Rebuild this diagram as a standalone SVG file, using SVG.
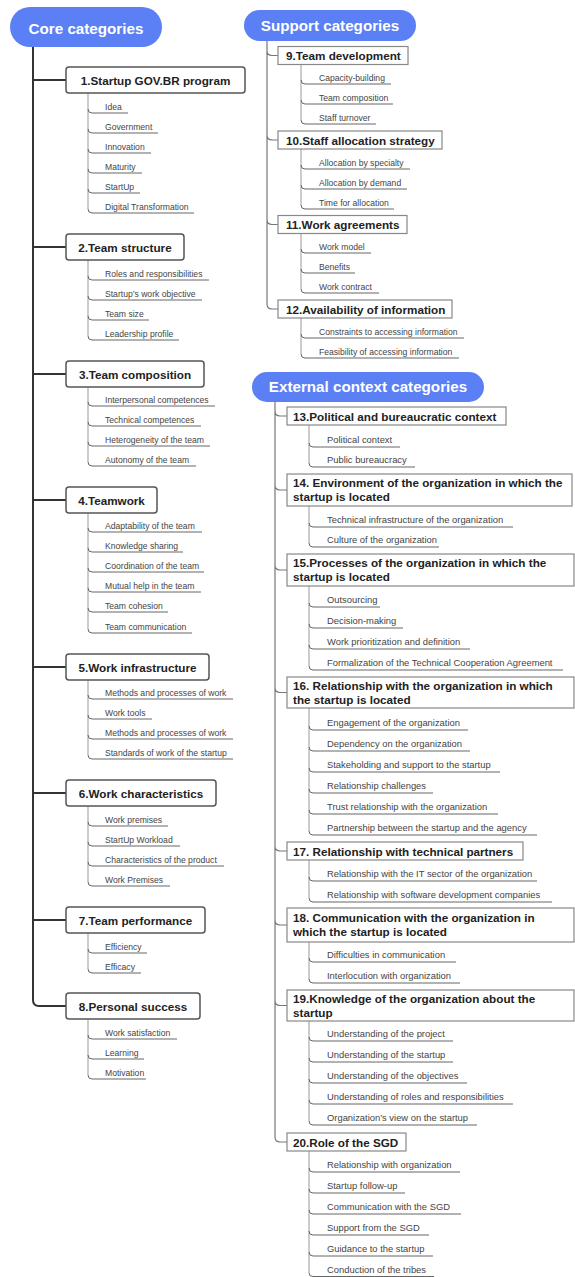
<svg xmlns="http://www.w3.org/2000/svg" width="575" height="1277" viewBox="0 0 575 1277">
<style>
.pill{fill:#5b80f5}
.pt{font-family:"Liberation Sans",Arial,sans-serif;font-weight:bold;font-size:15.2px;fill:#fff;text-anchor:middle}
.lbox{fill:#fff;stroke:#555;stroke-width:1.5}
.rbox{fill:#fff;stroke:#888;stroke-width:1.2}
.tt{font-family:"Liberation Sans",Arial,sans-serif;font-weight:bold;font-size:11.7px;fill:#222}
.tc{text-anchor:middle}
.it{font-family:"Liberation Sans",Arial,sans-serif;font-size:8.6px;fill:#444}
.it2{font-family:"Liberation Sans",Arial,sans-serif;font-size:9.4px;fill:#444}
.trunk{stroke:#333;stroke-width:2;fill:none}
.rtrunk{stroke:#777;stroke-width:1.2;fill:none}
.sub{stroke:#999;stroke-width:1;fill:none}
.ul{stroke:#666;stroke-width:1;fill:none}
</style>
<rect width="575" height="1277" fill="#fff"/>
<g id="connectors">
<path class="trunk" d="M33,47 V1000 Q33,1006 39,1006 H66 M33,80 H66 M33,247 H66 M33,374 H66 M33,500 H66 M33,667 H66 M33,793 H66 M33,920 H66"/>
<path class="rtrunk" d="M267,41 V304 Q267,309 272,309 H278 M267,50.5 Q267,55.5 272,55.5 H278 M267,135 Q267,140 272,140 H278 M267,219.5 Q267,224.5 272,224.5 H278"/>
<path class="rtrunk" d="M275,402 V1137 Q275,1142 280,1142 H287 M275,411 Q275,416 280,416 H287 M275,485 Q275,490 280,490 H287 M275,565 Q275,570 280,570 H287 M275,687.5 Q275,692.5 280,692.5 H287 M275,846 Q275,851 280,851 H287 M275,920 Q275,925 280,925 H287 M275,1000.5 Q275,1005.5 280,1005.5 H287"/>
<!-- left sub lines -->
<path class="sub" d="M88,93 V209 M88,260 V336 M88,387 V462 M88,513 V629 M88,680 V755 M88,806 V882 M88,933 V969 M88,1019 V1075"/>
<path class="ul" d="M88,109 Q88,113 92,113 H128 M88,129 Q88,133 92,133 H158 M88,149 Q88,153 92,153 H151 M88,169 Q88,173 92,173 H142 M88,189 Q88,193 92,193 H140 M88,209 Q88,213 92,213 H194
M88,276 Q88,280 92,280 H209 M88,296 Q88,300 92,300 H202 M88,316 Q88,320 92,320 H149 M88,336 Q88,340 92,340 H179
M88,402 Q88,406 92,406 H215 M88,422 Q88,426 92,426 H201 M88,442 Q88,446 92,446 H210 M88,462 Q88,466 92,466 H196
M88,528 Q88,532 92,532 H202 M88,548 Q88,552 92,552 H183 M88,568 Q88,572 92,572 H204 M88,588 Q88,592 92,592 H201 M88,608 Q88,612 92,612 H168 M88,629 Q88,633 92,633 H192
M88,695 Q88,699 92,699 H233 M88,715 Q88,719 92,719 H152 M88,735 Q88,739 92,739 H233 M88,755 Q88,759 92,759 H233
M88,822 Q88,826 92,826 H168 M88,842 Q88,846 92,846 H180 M88,862 Q88,866 92,866 H224 M88,882 Q88,886 92,886 H170
M88,949 Q88,953 92,953 H147 M88,969 Q88,973 92,973 H141
M88,1035 Q88,1039 92,1039 H177 M88,1055 Q88,1059 92,1059 H144 M88,1075 Q88,1079 92,1079 H146"/>
<!-- support sub lines -->
<path class="sub" d="M301,64.5 V120 M301,149 V205 M301,233.5 V289 M301,318 V354"/>
<path class="ul" d="M301,80 Q301,84 305,84 H391 M301,100 Q301,104 305,104 H393 M301,120 Q301,124 305,124 H376
M301,165 Q301,169 305,169 H410 M301,185 Q301,189 305,189 H407 M301,205 Q301,209 305,209 H394
M301,249 Q301,253 305,253 H371 M301,269 Q301,273 305,273 H355 M301,289 Q301,293 305,293 H379
M301,334 Q301,338 305,338 H464 M301,354 Q301,358 305,358 H459"/>
<!-- external sub lines -->
<path class="sub" d="M309,425 V463 M309,506 V543 M309,586 V666 M309,708 V831 M309,860 V898 M309,942 V979 M309,1021 V1121 M309,1151 V1273"/>
<path class="ul" d="M309,443 Q309,447 313,447 H400 M309,463 Q309,467 313,467 H415
M309,523 Q309,527 313,527 H513 M309,543 Q309,547 313,547 H439
M309,603 Q309,607 313,607 H380 M309,624 Q309,628 313,628 H403 M309,645 Q309,649 313,649 H470 M309,666 Q309,670 313,670 H563
M309,726 Q309,730 313,730 H468 M309,747 Q309,751 313,751 H470 M309,768 Q309,772 313,772 H500 M309,789 Q309,793 313,793 H433 M309,810 Q309,814 313,814 H498 M309,831 Q309,835 313,835 H537
M309,877 Q309,881 313,881 H537 M309,898 Q309,902 313,902 H552
M309,958 Q309,962 313,962 H456 M309,979 Q309,983 313,983 H460
M309,1037 Q309,1041 313,1041 H453 M309,1058 Q309,1062 313,1062 H453 M309,1079 Q309,1083 313,1083 H467 M309,1100 Q309,1104 313,1104 H513 M309,1121 Q309,1125 313,1125 H477
M309,1168 Q309,1172 313,1172 H460 M309,1189 Q309,1193 313,1193 H405 M309,1210 Q309,1214 313,1214 H461 M309,1231 Q309,1235 313,1235 H429 M309,1252 Q309,1256 313,1256 H433 M309,1273 Q309,1276.5 313,1276.5 H434"/>
</g>
<g id="core">
<rect class="pill" x="10" y="7" width="152" height="40" rx="20"/>
<text class="pt" x="86" y="34">Core categories</text>
</g>
<g id="n1">
<rect class="lbox" x="66" y="67" width="179" height="26" rx="3"/>
<text class="tt tc" x="155.5" y="84.5">1.Startup GOV.BR program</text>
<text class="it" x="105" y="110">Idea</text>
<text class="it" x="105" y="130">Government</text>
<text class="it" x="105" y="150">Innovation</text>
<text class="it" x="105" y="170">Maturity</text>
<text class="it" x="105" y="190">StartUp</text>
<text class="it" x="105" y="210">Digital Transformation</text>
</g>
<g id="n2">
<rect class="lbox" x="66" y="234" width="118" height="26" rx="3"/>
<text class="tt tc" x="125" y="251.5">2.Team structure</text>
<text class="it" x="105" y="277">Roles and responsibilities</text>
<text class="it" x="105" y="297">Startup’s work objective</text>
<text class="it" x="105" y="317">Team size</text>
<text class="it" x="105" y="337">Leadership profile</text>
</g>
<g id="n3">
<rect class="lbox" x="66" y="361" width="138" height="26" rx="3"/>
<text class="tt tc" x="135" y="378.5">3.Team composition</text>
<text class="it" x="105" y="403">Interpersonal competences</text>
<text class="it" x="105" y="423">Technical competences</text>
<text class="it" x="105" y="443">Heterogeneity of the team</text>
<text class="it" x="105" y="463">Autonomy of the team</text>
</g>
<g id="n4">
<rect class="lbox" x="66" y="487" width="91" height="26" rx="3"/>
<text class="tt tc" x="111.5" y="504.5">4.Teamwork</text>
<text class="it" x="105" y="529">Adaptability of the team</text>
<text class="it" x="105" y="549">Knowledge sharing</text>
<text class="it" x="105" y="569">Coordination of the team</text>
<text class="it" x="105" y="589">Mutual help in the team</text>
<text class="it" x="105" y="609">Team cohesion</text>
<text class="it" x="105" y="630">Team communication</text>
</g>
<g id="n5">
<rect class="lbox" x="66" y="654" width="143" height="26" rx="3"/>
<text class="tt tc" x="137.5" y="671.5">5.Work infrastructure</text>
<text class="it" x="105" y="696">Methods and processes of work</text>
<text class="it" x="105" y="716">Work tools</text>
<text class="it" x="105" y="736">Methods and processes of work</text>
<text class="it" x="105" y="756">Standards of work of the startup</text>
</g>
<g id="n6">
<rect class="lbox" x="66" y="780" width="150" height="26" rx="3"/>
<text class="tt tc" x="141" y="797.5">6.Work characteristics</text>
<text class="it" x="105" y="823">Work premises</text>
<text class="it" x="105" y="843">StartUp Workload</text>
<text class="it" x="105" y="863">Characteristics of the product</text>
<text class="it" x="105" y="883">Work Premises</text>
</g>
<g id="n7">
<rect class="lbox" x="66" y="907" width="139" height="26" rx="3"/>
<text class="tt tc" x="135.5" y="924.5">7.Team performance</text>
<text class="it" x="105" y="950">Efficiency</text>
<text class="it" x="105" y="970">Efficacy</text>
</g>
<g id="n8">
<rect class="lbox" x="66" y="993" width="134" height="26" rx="3"/>
<text class="tt tc" x="133" y="1010.5">8.Personal success</text>
<text class="it" x="105" y="1036">Work satisfaction</text>
<text class="it" x="105" y="1056">Learning</text>
<text class="it" x="105" y="1076">Motivation</text>
</g>
<g id="support">
<rect class="pill" x="244" y="10" width="172" height="31" rx="15.5"/>
<text class="pt" x="330" y="31">Support categories</text>
</g>
<g id="n9">
<rect class="rbox" x="278" y="46.5" width="130" height="18"/>
<text class="tt" x="286" y="60">9.Team development</text>
<text class="it" x="319" y="81">Capacity-building</text>
<text class="it" x="319" y="101">Team composition</text>
<text class="it" x="319" y="121">Staff turnover</text>
</g>
<g id="n10">
<rect class="rbox" x="278" y="131" width="164" height="18"/>
<text class="tt" x="286" y="144.5">10.Staff allocation strategy</text>
<text class="it" x="319" y="166">Allocation by specialty</text>
<text class="it" x="319" y="186">Allocation by demand</text>
<text class="it" x="319" y="206">Time for allocation</text>
</g>
<g id="n11">
<rect class="rbox" x="278" y="215.5" width="129" height="18"/>
<text class="tt" x="286" y="229">11.Work agreements</text>
<text class="it" x="319" y="250">Work model</text>
<text class="it" x="319" y="270">Benefits</text>
<text class="it" x="319" y="290">Work contract</text>
</g>
<g id="n12">
<rect class="rbox" x="278" y="300" width="174" height="18"/>
<text class="tt" x="286" y="313.5">12.Availability of information</text>
<text class="it" x="319" y="335">Constraints to accessing information</text>
<text class="it" x="319" y="355">Feasibility of accessing information</text>
</g>
<g id="external">
<rect class="pill" x="252" y="372" width="232" height="30" rx="15"/>
<text class="pt" x="368" y="392">External context categories</text>
</g>
<g id="n13">
<rect class="rbox" x="287" y="407" width="219" height="18"/>
<text class="tt" x="293" y="420.5">13.Political and bureaucratic context</text>
<text class="it2" x="327" y="442.5">Political context</text>
<text class="it2" x="327" y="462.5">Public bureaucracy</text>
</g>
<g id="n14">
<rect class="rbox" x="287" y="474" width="285" height="32"/>
<text class="tt" x="293" y="487"><tspan x="293">14. Environment of the organization in which the</tspan><tspan x="293" dy="13.5">startup is located</tspan></text>
<text class="it2" x="327" y="522.5">Technical infrastructure of the organization</text>
<text class="it2" x="327" y="542.5">Culture of the organization</text>
</g>
<g id="n15">
<rect class="rbox" x="287" y="554" width="287" height="32"/>
<text class="tt" x="293" y="567"><tspan x="293">15.Processes of the organization in which the</tspan><tspan x="293" dy="14">startup is located</tspan></text>
<text class="it2" x="327" y="602.5">Outsourcing</text>
<text class="it2" x="327" y="623.5">Decision-making</text>
<text class="it2" x="327" y="644.5">Work prioritization and definition</text>
<text class="it2" x="327" y="665.5">Formalization of the Technical Cooperation Agreement</text>
</g>
<g id="n16">
<rect class="rbox" x="287" y="677" width="287" height="31"/>
<text class="tt" x="293" y="689.5"><tspan x="293">16. Relationship with the organization in which</tspan><tspan x="293" dy="14">the startup is located</tspan></text>
<text class="it2" x="327" y="725.5">Engagement of the organization</text>
<text class="it2" x="327" y="746.5">Dependency on the organization</text>
<text class="it2" x="327" y="767.5">Stakeholding and support to the startup</text>
<text class="it2" x="327" y="788.5">Relationship challenges</text>
<text class="it2" x="327" y="809.5">Trust relationship with the organization</text>
<text class="it2" x="327" y="830.5">Partnership between the startup and the agency</text>
</g>
<g id="n17">
<rect class="rbox" x="287" y="842" width="236" height="18"/>
<text class="tt" x="293" y="855.5">17. Relationship with technical partners</text>
<text class="it2" x="327" y="876.5">Relationship with the IT sector of the organization</text>
<text class="it2" x="327" y="897.5">Relationship with software development companies</text>
</g>
<g id="n18">
<rect class="rbox" x="287" y="908" width="287" height="34"/>
<text class="tt" x="293" y="922"><tspan x="293">18. Communication with the organization in</tspan><tspan x="293" dy="14">which the startup is located</tspan></text>
<text class="it2" x="327" y="957.5">Difficulties in communication</text>
<text class="it2" x="327" y="978.5">Interlocution with organization</text>
</g>
<g id="n19">
<rect class="rbox" x="287" y="990" width="287" height="31"/>
<text class="tt" x="293" y="1002.5"><tspan x="293">19.Knowledge of the organization about the</tspan><tspan x="293" dy="14">startup</tspan></text>
<text class="it2" x="327" y="1036.5">Understanding of the project</text>
<text class="it2" x="327" y="1057.5">Understanding of the startup</text>
<text class="it2" x="327" y="1078.5">Understanding of the objectives</text>
<text class="it2" x="327" y="1099.5">Understanding of roles and responsibilities</text>
<text class="it2" x="327" y="1120.5">Organization’s view on the startup</text>
</g>
<g id="n20">
<rect class="rbox" x="287" y="1133" width="119" height="18"/>
<text class="tt" x="293" y="1146.5">20.Role of the SGD</text>
<text class="it2" x="327" y="1167.5">Relationship with organization</text>
<text class="it2" x="327" y="1188.5">Startup follow-up</text>
<text class="it2" x="327" y="1209.5">Communication with the SGD</text>
<text class="it2" x="327" y="1230.5">Support from the SGD</text>
<text class="it2" x="327" y="1251.5">Guidance to the startup</text>
<text class="it2" x="327" y="1272.5">Conduction of the tribes</text>
</g>
</svg>
